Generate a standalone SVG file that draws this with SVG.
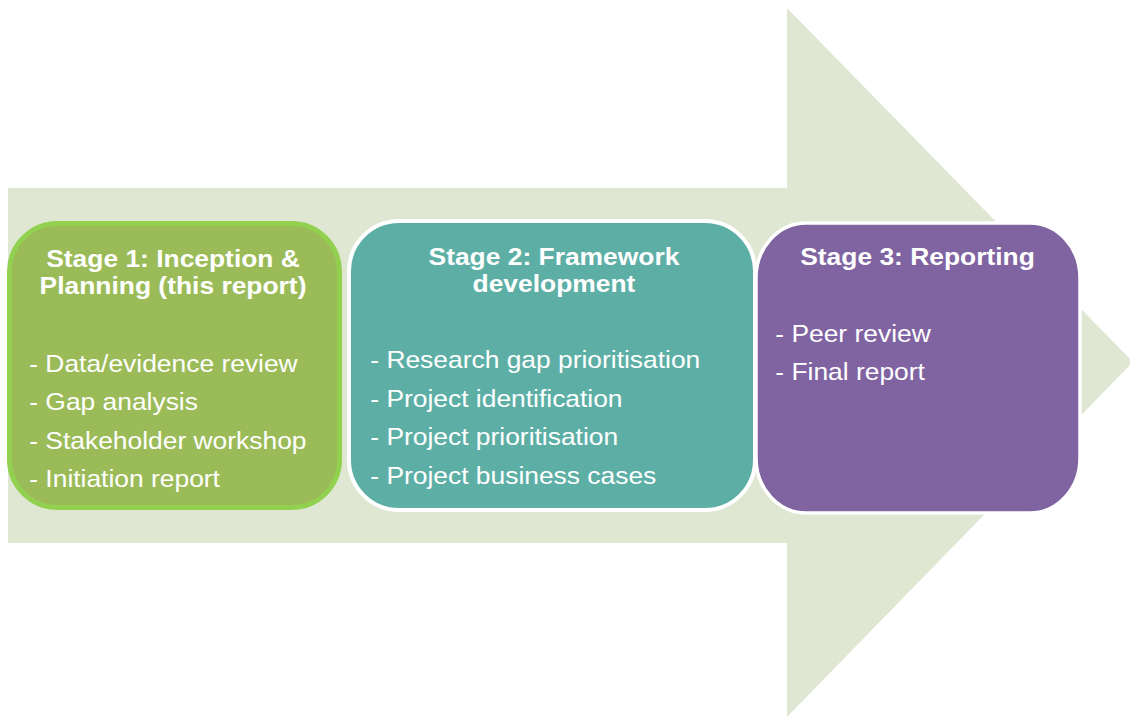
<svg xmlns="http://www.w3.org/2000/svg" width="1130" height="717" viewBox="0 0 1130 717">
<style>
.t{font-family:"Liberation Sans",Arial,sans-serif;font-size:24px;fill:#ffffff}
.h{font-weight:bold;text-anchor:middle}
</style>
<rect width="1130" height="717" fill="#ffffff"/>
<g id="arrow">
<polygon points="8,188 787,188 787,8 1133,362 787,717 787,543 8,543" fill="#DFE7D3"/>
</g>
<g id="stage1">
<rect x="9.5" y="223.5" width="330" height="284" rx="48" ry="48" fill="#9BBB59" stroke="#92D050" stroke-width="5"/>
<g transform="scale(1.1,1)">
<text class="t h" x="157.3" y="267">Stage 1: Inception &amp;</text>
<text class="t h" x="157.3" y="294">Planning (this report)</text>
<text class="t" x="26.6" y="372">- Data/evidence review</text>
<text class="t" x="26.6" y="410">- Gap analysis</text>
<text class="t" x="26.6" y="449">- Stakeholder workshop</text>
<text class="t" x="26.6" y="487">- Initiation report</text>
</g>
</g>
<g id="stage2">
<rect x="349" y="221" width="406" height="289" rx="50" ry="50" fill="#5DAFA6" stroke="#ffffff" stroke-width="4"/>
<g transform="scale(1.1,1)">
<text class="t h" x="503.6" y="265">Stage 2: Framework</text>
<text class="t h" x="503.6" y="292">development</text>
<text class="t" x="336.6" y="368">- Research gap prioritisation</text>
<text class="t" x="336.6" y="407">- Project identification</text>
<text class="t" x="336.6" y="445">- Project prioritisation</text>
<text class="t" x="336.6" y="484">- Project business cases</text>
</g>
</g>
<g id="stage3">
<rect x="756" y="223" width="324" height="290" rx="50" ry="55" fill="#8064A2" stroke="#ffffff" stroke-width="3.5"/>
<g transform="scale(1.1,1)">
<text class="t h" x="834.1" y="265">Stage 3: Reporting</text>
<text class="t" x="704.8" y="342">- Peer review</text>
<text class="t" x="704.8" y="380">- Final report</text>
</g>
</g>
<g id="connectors"/>
</svg>
